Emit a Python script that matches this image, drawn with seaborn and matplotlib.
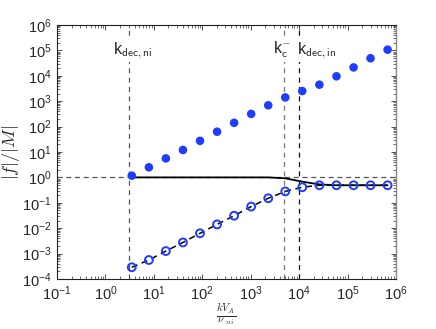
import numpy as np
import pandas as pd
import matplotlib
matplotlib.use("Agg")
import matplotlib.pyplot as plt
import matplotlib.ticker as mticker
import seaborn as sns

# ---- data ----
k_norm = [3.5, 7.9, 17.7, 39.9, 89.7, 202, 454, 1022, 2300, 5170,
          11600, 26200, 59000, 133000, 298000, 671000]
f_filled = [1.17, 2.5, 5.6, 12.0, 27.5, 63, 141, 316, 690, 1410,
            2510, 4470, 9550, 21400, 49000, 107000]
f_open = [2.9e-4, 5.6e-4, 1.26e-3, 2.75e-3, 6.3e-3, 0.0141, 0.031, 0.071,
          0.151, 0.28, 0.41, 0.49, 0.49, 0.49, 0.49, 0.49]
f_solid = [1.0, 1.0, 1.0, 1.0, 1.0, 1.0, 1.0, 1.0, 1.0, 0.92,
           0.68, 0.53, 0.49, 0.49, 0.49, 0.49]
k_dec_ni = 3.12
k_c_minus = 4.9e3
k_dec_in = 1.0e4
x_ticks = [1e-1, 1e0, 1e1, 1e2, 1e3, 1e4, 1e5, 1e6]
y_ticks = [1e-4, 1e-3, 1e-2, 1e-1, 1e0, 1e1, 1e2, 1e3, 1e4, 1e5, 1e6]

df = pd.DataFrame({"k": k_norm, "filled": f_filled, "open": f_open, "solid": f_solid})

sns.set_style("ticks")
plt.rcParams["font.family"] = ["Liberation Sans", "DejaVu Sans"]
plt.rcParams["mathtext.fontset"] = "cm"

fig = plt.figure(figsize=(4.36, 3.29), dpi=100)
ax = fig.add_axes([57/436, 1-279/329, (396-57)/436, (279-25)/329])
ax.set_xscale("log")
ax.set_yscale("log")

blue = "#1f3dff"

ax.axhline(1.0, color="#555555", lw=0.9, ls=(0, (4, 3)), zorder=1)
for xv, col in [(k_dec_ni, "#555555"), (k_c_minus, "#777777"), (k_dec_in, "#111111")]:
    ax.axvline(xv, color=col, lw=0.9, ls=(0, (4, 3.5)), zorder=1)

sns.lineplot(data=df, x="k", y="solid", ax=ax, color="black", lw=1.3, zorder=2)
sns.lineplot(data=df, x="k", y="open", ax=ax, color="black", lw=1.1,
             ls=(0, (4, 3)), zorder=2)
sns.scatterplot(data=df, x="k", y="open", ax=ax, s=32, facecolor="none",
                edgecolor=blue, linewidth=1.4, zorder=3)
sns.scatterplot(data=df, x="k", y="filled", ax=ax, s=38, color=blue,
                edgecolor="none", zorder=3)

ax.set_xlim(1e-1, 1e6)
ax.set_ylim(1e-4, 1e6)
ax.set_xticks(x_ticks)
ax.set_yticks(y_ticks)
ax.xaxis.set_minor_locator(mticker.LogLocator(base=10, subs=np.arange(2, 10), numticks=20))
ax.yaxis.set_minor_locator(mticker.LogLocator(base=10, subs=np.arange(2, 10), numticks=20))
ax.xaxis.set_minor_formatter(mticker.NullFormatter())
ax.yaxis.set_minor_formatter(mticker.NullFormatter())
ax.tick_params(which="both", direction="in", top=True, right=True, labelsize=10.5,
               color="#333333", pad=4)
ax.tick_params(which="major", length=3.5, width=0.6)
ax.tick_params(which="minor", length=2, width=0.5)
for s in ["left", "bottom", "top"]:
    ax.spines[s].set_color("#222222")
    ax.spines[s].set_linewidth(0.8)
ax.spines["right"].set_color("#888888")
ax.spines["right"].set_linewidth(1.0)

ax.set_xlabel(r"$\frac{kV_A}{\nu\ _{ni}}$", fontsize=11, labelpad=-1)
ax.set_ylabel(r"$|f|/|M|$", fontsize=13, labelpad=0)

bb = dict(facecolor="white", edgecolor="none", pad=1.0)
ax.text(k_dec_ni * 1.15, 1.0e5, r"k$_{\mathsf{dec,ni}}$", fontsize=11.5, ha="center",
        va="center", bbox=bb, zorder=4)
ax.text(k_c_minus * 0.9, 1.0e5, r"k$_{\mathsf{c}}^{-}$", fontsize=11.5, ha="center",
        va="center", bbox=bb, zorder=4)
ax.text(k_dec_in * 0.9, 1.0e5, r"k$_{\mathsf{dec,in}}$", fontsize=11.5, ha="left",
        va="center", bbox=bb, zorder=4)

fig.savefig("out.png", dpi=100)
